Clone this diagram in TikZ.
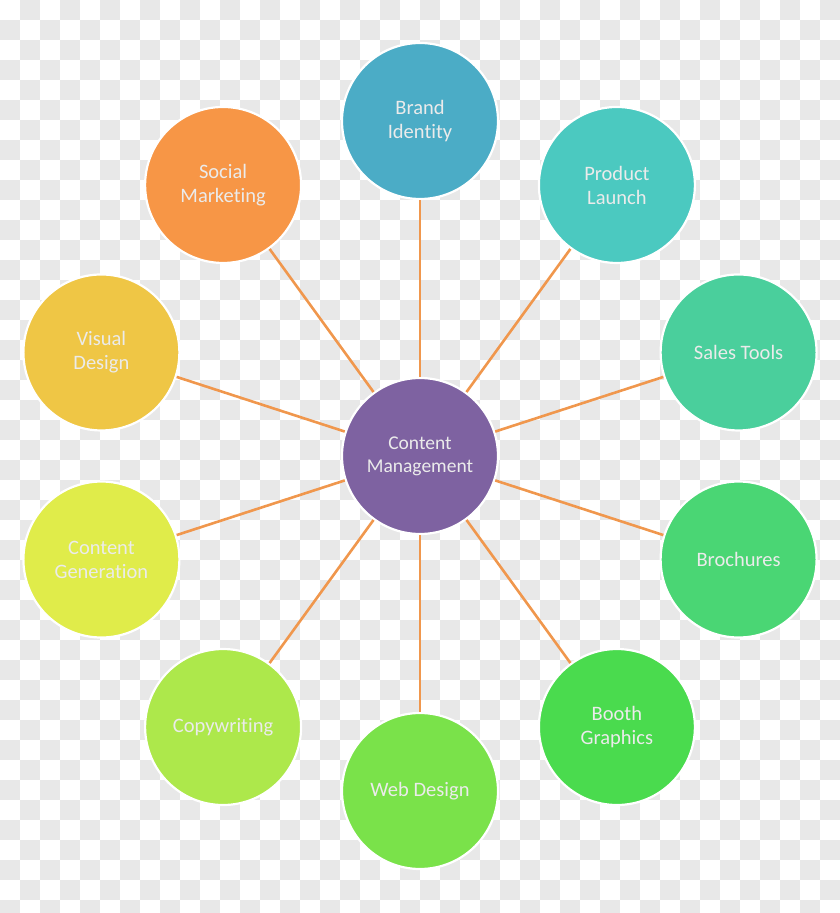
\documentclass[tikz,border=0pt]{standalone}
\usepackage{fontspec}
\setmainfont{Carlito}[Ligatures=CommonOff]
\usepackage{xcolor}
\usepackage{tikz}
\usetikzlibrary{calc}

\definecolor{hubpurple}{HTML}{7E62A1}
\definecolor{brandblue}{HTML}{4BACC6}
\definecolor{launchteal}{HTML}{4BC9C0}
\definecolor{salesgreen}{HTML}{4ACF9C}
\definecolor{brochgreen}{HTML}{4AD674}
\definecolor{boothgreen}{HTML}{4ADB4E}
\definecolor{webgreen}{HTML}{7AE24A}
\definecolor{copylime}{HTML}{ADE84B}
\definecolor{genyellow}{HTML}{E0EC4A}
\definecolor{visualgold}{HTML}{EFC645}
\definecolor{socialorange}{HTML}{F79646}
\definecolor{spokeorange}{HTML}{F0974D}
\definecolor{checkgray}{HTML}{E8E8E8}

\begin{document}
\begin{tikzpicture}[
    bubble/.style={circle, draw=white, line width=2.2pt, minimum size=156pt,
                   inner sep=0pt, align=center, text=white!92!black,
                   font=\fontsize{20.5}{24}\selectfont},
    hub/.style={bubble, fill=hubpurple, font=\fontsize{19.5}{23}\selectfont},
    spoke/.style={draw=spokeorange, line width=2.6pt},
    checker/.style={fill=checkgray}
]
\useasboundingbox (0,0) rectangle (840pt,913pt);

% transparency checkerboard behind the diagram
\begin{scope}
\clip (0,0) rectangle (840pt,913pt);
\foreach \i in {0,...,41}{
  \foreach \j in {0,...,45}{
    \pgfmathtruncatemacro\cellodd{mod(\i+\j,2)}
    \ifnum\cellodd=1
      \path[checker] (20pt*\i,913pt-20pt*\j) rectangle (20pt*\i+20pt,893pt-20pt*\j);
    \fi
  }
}
\end{scope}

\node[hub] (cm) at (420pt,457pt) {Content\\Management};

\node[bubble, fill=brandblue]    (brand)  at ($(cm)+(90:335pt)$)  {Brand\\Identity};
\node[bubble, fill=launchteal]   (launch) at ($(cm)+(54:335pt)$)  {Product\\Launch};
\node[bubble, fill=salesgreen]   (sales)  at ($(cm)+(18:335pt)$)  {Sales Tools};
\node[bubble, fill=brochgreen]   (broch)  at ($(cm)+(-18:335pt)$) {Brochures};
\node[bubble, fill=boothgreen]   (booth)  at ($(cm)+(-54:335pt)$) {Booth\\Graphics};
\node[bubble, fill=webgreen]     (web)    at ($(cm)+(-90:335pt)$) {Web Design};
\node[bubble, fill=copylime]     (copy)   at ($(cm)+(234:335pt)$) {Copywriting};
\node[bubble, fill=genyellow]    (gen)    at ($(cm)+(198:335pt)$) {Content\\Generation};
\node[bubble, fill=visualgold]   (visual) at ($(cm)+(162:335pt)$) {Visual\\Design};
\node[bubble, fill=socialorange] (social) at ($(cm)+(126:335pt)$) {Social\\Marketing};

\foreach \n in {brand,launch,sales,broch,booth,web,copy,gen,visual,social}
  \draw[spoke] (cm) -- (\n);

\end{tikzpicture}
\end{document}
